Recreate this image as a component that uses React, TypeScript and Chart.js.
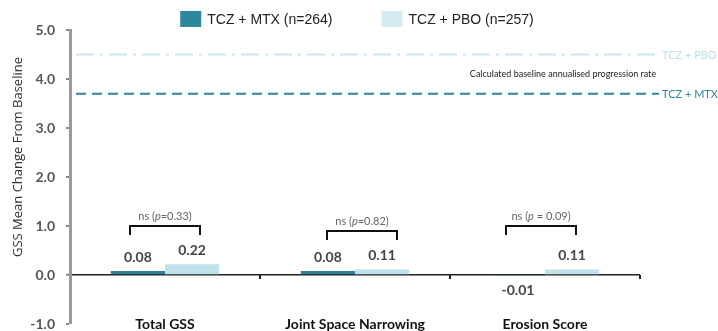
import React, { useEffect, useRef } from "react";
import { Chart, registerables } from "chart.js";

Chart.register(...registerables);

const categories = ["Total GSS", "Joint Space Narrowing", "Erosion Score"];
const seriesNames = ["TCZ + MTX (n=264)", "TCZ + PBO (n=257)"];
const mtxValues = [0.08, 0.08, -0.01];
const pboValues = [0.22, 0.11, 0.11];
const pLabels = ["=0.33)", "=0.82)", " = 0.09)"];
const bracketTop = [1.0, 0.9, 1.0];
const bracketShift = [0, 7, -4];
const refValues = [4.5, 3.7];
const refLabels = ["TCZ + PBO", "TCZ + MTX"];
const refCaption = "Calculated baseline annualised progression rate";
const yTicks = [-1, 0, 1, 2, 3, 4, 5];
const yTitle = "GSS Mean Change From Baseline";

const MTX_COLOR = "#2d8196";
const PBO_COLOR = "#bfe2ec";

const overlay = {
  id: "overlay",
  afterDatasetsDraw(chart: any) {
    const { ctx, chartArea, scales } = chart;
    const x = scales.x;
    const y = scales.y;
    const y0 = y.getPixelForValue(0);
    ctx.save();

    // category boundary ticks on zero line
    ctx.strokeStyle = "#222";
    ctx.lineWidth = 2;
    const step = (chartArea.right - chartArea.left) / categories.length;
    for (let i = 1; i <= categories.length; i++) {
      const bx = Math.round(chartArea.left + step * i);
      ctx.beginPath();
      ctx.moveTo(bx, y0);
      ctx.lineTo(bx, y0 + 4);
      ctx.stroke();
    }

    // reference lines
    const refStyles = [
      { color: "#cbe7f0", text: "#bde0ea", dash: [18, 6, 3, 6] },
      { color: "#2e869b", text: "#2e869b", dash: [10, 6] },
    ];
    refValues.forEach((v, i) => {
      const ry = y.getPixelForValue(v);
      const st = refStyles[i];
      ctx.strokeStyle = st.color;
      ctx.lineWidth = 2;
      ctx.setLineDash(st.dash);
      ctx.beginPath();
      ctx.moveTo(chartArea.left + 6, ry);
      ctx.lineTo(chartArea.right + 19, ry);
      ctx.stroke();
      ctx.setLineDash([]);
      ctx.fillStyle = st.text;
      ctx.font = "11px Lato";
      ctx.textAlign = "left";
      ctx.textBaseline = "middle";
      ctx.fillText(refLabels[i], chartArea.right + 22, ry + 1);
    });
    const capY = (y.getPixelForValue(refValues[0]) + y.getPixelForValue(refValues[1])) / 2;
    ctx.fillStyle = "#222";
    ctx.font = "9px Lato";
    ctx.textAlign = "center";
    ctx.textBaseline = "middle";
    ctx.fillText(refCaption, 563, capY);

    // value labels
    ctx.font = "bold 14px Lato";
    ctx.fillStyle = "#444";
    ctx.textAlign = "center";
    chart.data.datasets.forEach((ds: any, di: number) => {
      const meta = chart.getDatasetMeta(di);
      meta.data.forEach((bar: any, i: number) => {
        const v = ds.data[i];
        const by = y.getPixelForValue(v);
        const ly = v >= 0 ? by - 14 : by + 15;
        ctx.textBaseline = "middle";
        ctx.fillText(v.toFixed(2), bar.x, ly);
      });
    });

    // brackets
    categories.forEach((_, i) => {
      const cx = x.getPixelForValue(i) + bracketShift[i];
      const ty = Math.round(y.getPixelForValue(bracketTop[i]));
      ctx.strokeStyle = "#111";
      ctx.lineWidth = 2;
      ctx.beginPath();
      ctx.moveTo(cx - 35, ty + 9);
      ctx.lineTo(cx - 35, ty);
      ctx.lineTo(cx + 35, ty);
      ctx.lineTo(cx + 35, ty + 9);
      ctx.stroke();
      const parts = [
        { t: "ns (", f: "11px Lato" },
        { t: "p", f: "italic 11px Lato" },
        { t: pLabels[i], f: "11px Lato" },
      ];
      let w = 0;
      parts.forEach((p) => {
        ctx.font = p.f;
        w += ctx.measureText(p.t).width;
      });
      let px = cx - w / 2;
      ctx.fillStyle = "#666";
      ctx.textAlign = "left";
      ctx.textBaseline = "middle";
      parts.forEach((p) => {
        ctx.font = p.f;
        ctx.fillText(p.t, px, ty - 10);
        px += ctx.measureText(p.t).width;
      });
    });

    // category labels
    ctx.font = "bold 14px Lato";
    ctx.fillStyle = "#111";
    ctx.textAlign = "center";
    ctx.textBaseline = "middle";
    categories.forEach((c, i) => {
      ctx.fillText(c, x.getPixelForValue(i), chartArea.bottom);
    });

    ctx.restore();
  },
  afterDraw(chart: any) {
    const { ctx } = chart;
    ctx.save();
    ctx.font = "14px 'Liberation Sans'";
    const items = chart.data.datasets.map((ds: any) => ({
      label: ds.label,
      color: ds.legendColor,
      w: ctx.measureText(ds.label).width,
    }));
    const boxW = 21;
    const boxH = 16;
    const gapText = 6;
    const gapItem = 49;
    const total = items.reduce((s: number, it: any) => s + boxW + gapText + it.w, 0) + gapItem * (items.length - 1);
    let lx = 357 - total / 2;
    items.forEach((it: any) => {
      ctx.fillStyle = it.color;
      ctx.fillRect(lx, 11, boxW, boxH);
      ctx.fillStyle = "#222";
      ctx.textAlign = "left";
      ctx.textBaseline = "middle";
      ctx.fillText(it.label, lx + boxW + gapText, 20);
      lx += boxW + gapText + it.w + gapItem;
    });
    ctx.translate(18, 157);
    ctx.rotate(-Math.PI / 2);
    ctx.font = "13px 'Open Sans'";
    ctx.fillStyle = "#333";
    ctx.textAlign = "center";
    ctx.textBaseline = "middle";
    ctx.fillText(yTitle, 0, 0);
    ctx.restore();
  },
};

export default function App() {
  const ref = useRef<HTMLCanvasElement | null>(null);
  useEffect(() => {
    if (!ref.current) return;
    const chart = new Chart(ref.current, {
      type: "bar",
      data: {
        labels: categories,
        datasets: [
          {
            label: seriesNames[0],
            data: mtxValues,
            backgroundColor: MTX_COLOR,
            legendColor: "#2f879c",
            categoryPercentage: 0.57,
            barPercentage: 1.0,
          } as any,
          {
            label: seriesNames[1],
            data: pboValues,
            backgroundColor: PBO_COLOR,
            legendColor: "#d3ebf3",
            categoryPercentage: 0.57,
            barPercentage: 1.0,
          } as any,
        ],
      },
      options: {
        animation: false,
        responsive: false,
        layout: { padding: { top: 30, right: 78, bottom: 7, left: 0 } },
        plugins: {
          legend: { display: false },
          tooltip: { enabled: false },
        },
        scales: {
          x: { display: false, offset: true },
          y: {
            min: -1,
            max: 5,
            afterFit: (s: any) => {
              s.width = 70;
              s.paddingTop = 0;
              s.paddingBottom = 0;
            },
            afterBuildTicks: (s: any) => {
              s.ticks = yTicks.map((v) => ({ value: v }));
            },
            ticks: {
              callback: (v: any) => Number(v).toFixed(1),
              font: { family: "Lato", weight: "bold", size: 14 },
              color: "#555",
              padding: 11,
            },
            border: { display: true, color: "#999", width: 3 },
            grid: {
              drawOnChartArea: true,
              color: (c: any) => (c.tick && c.tick.value === 0 ? "#222" : "rgba(0,0,0,0)"),
              lineWidth: (c: any) => (c.tick && c.tick.value === 0 ? 1.5 : 0),
              tickColor: "#888",
              tickLength: 4,
              tickWidth: 2,
            },
          },
        },
      },
      plugins: [overlay],
    });
    return () => chart.destroy();
  }, []);
  return (
    <div style={{ position: "fixed", left: 0, top: 0, width: 718, height: 331, background: "#fff" }}>
      <canvas ref={ref} width={718} height={331} style={{ display: "block" }} />
    </div>
  );
}
